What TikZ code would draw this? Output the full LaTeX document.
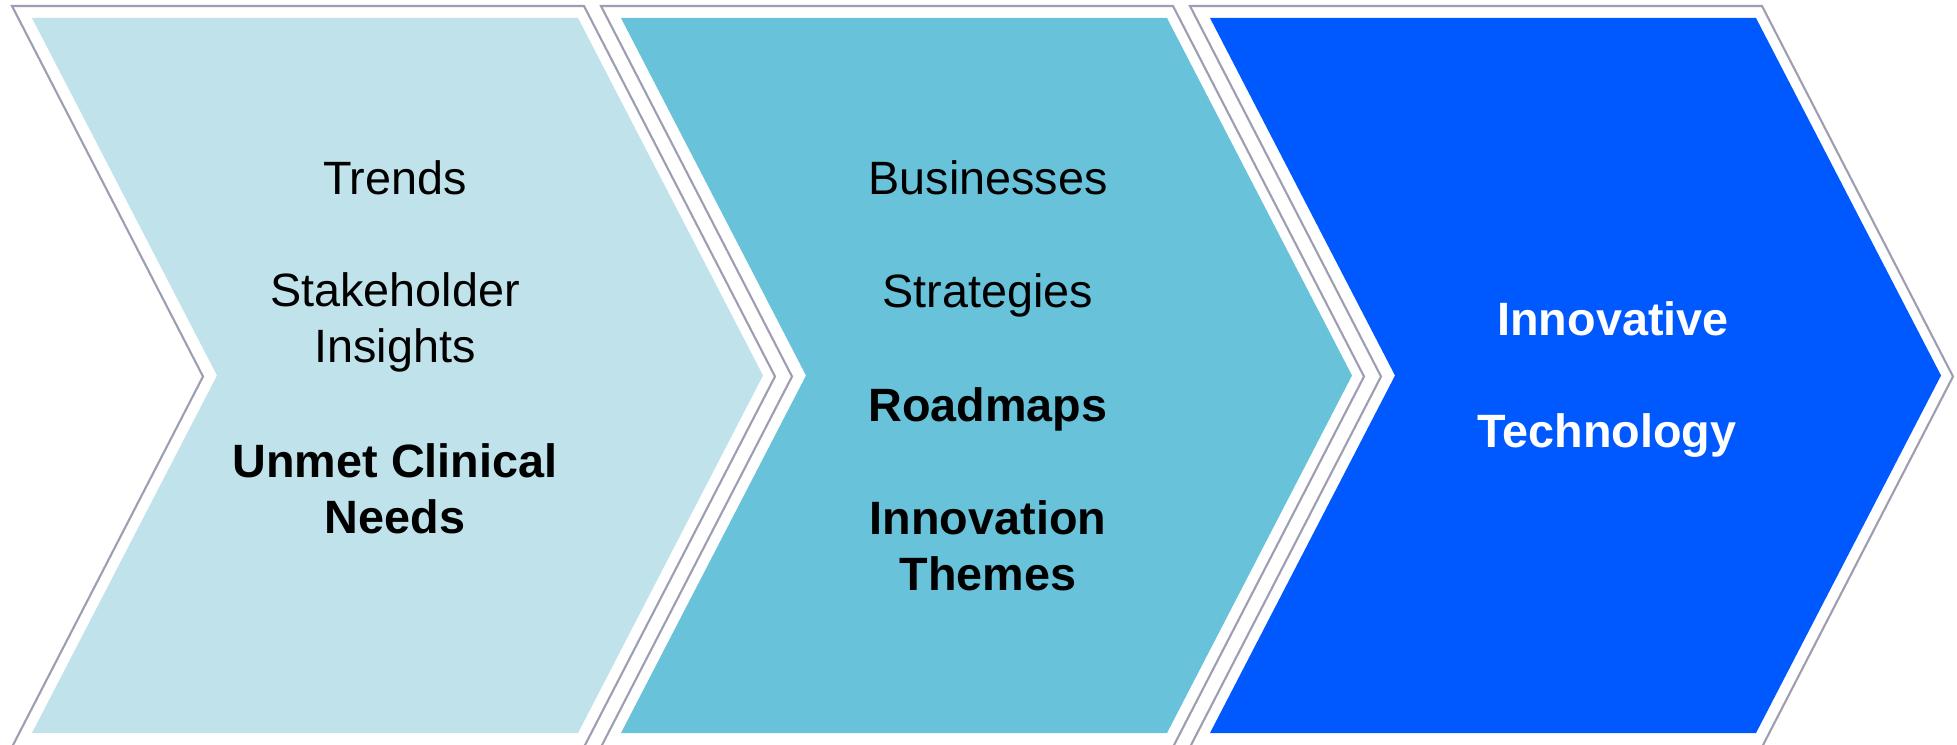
\documentclass[tikz,border=0pt]{standalone}
\usepackage{fontspec}
\setmainfont{Liberation Sans}
\definecolor{edgegray}{RGB}{158,158,178}
\definecolor{paleteal}{RGB}{192,226,234}
\definecolor{midteal}{RGB}{104,194,217}
\definecolor{deepblue}{RGB}{0,89,255}

\begin{document}
\begin{tikzpicture}[
  font=\fontsize{13.3pt}{15.8pt}\selectfont,
  rim/.style={draw=edgegray, line width=0.6pt, fill=white},
  body/.style={draw=none},
  txt/.style={align=center, inner sep=0pt, anchor=base},
  boldtxt/.style={txt, font=\fontsize{13.3pt}{15.8pt}\selectfont\bfseries}
]
\useasboundingbox (0,0) rectangle (19.57,7.44);

% stage 1
\draw[rim] (0.12,7.38) -- (5.84,7.38) -- (7.75,3.675) -- (5.84,-0.03)
  -- (0.12,-0.03) -- (2.03,3.675) -- cycle;
\fill[body, paleteal] (0.32,7.26) -- (5.78,7.26) -- (7.63,3.685) -- (5.78,0.11)
  -- (0.32,0.11) -- (2.17,3.685) -- cycle;

% stage 2
\draw[rim] (6.01,7.38) -- (11.73,7.38) -- (13.64,3.675) -- (11.73,-0.03)
  -- (6.01,-0.03) -- (7.92,3.675) -- cycle;
\fill[body, midteal] (6.21,7.26) -- (11.67,7.26) -- (13.52,3.685) -- (11.67,0.11)
  -- (6.21,0.11) -- (8.06,3.685) -- cycle;

% stage 3
\draw[rim] (11.90,7.38) -- (17.62,7.38) -- (19.53,3.675) -- (17.62,-0.03)
  -- (11.90,-0.03) -- (13.81,3.675) -- cycle;
\fill[body, deepblue] (12.10,7.26) -- (17.56,7.26) -- (19.41,3.685) -- (17.56,0.11)
  -- (12.10,0.11) -- (13.95,3.685) -- cycle;

% multi-line nodes sit on the baseline of their last line
\node[txt] (trends) at (3.95,5.50) {Trends};
\node[txt] (insights) at (3.95,3.82) {Stakeholder\\Insights};
\node[boldtxt] (needs) at (3.95,2.11) {Unmet Clinical\\Needs};

\node[txt] (businesses) at (9.88,5.50) {Businesses};
\node[txt] (strategies) at (9.88,4.37) {Strategies};
\node[boldtxt] (roadmaps) at (9.88,3.23) {Roadmaps};
\node[boldtxt] (themes) at (9.88,1.54) {Innovation\\Themes};

\node[boldtxt, text=white] (innovative) at (16.13,4.09) {Innovative};
\node[boldtxt, text=white] (technology) at (16.07,2.97) {Technology};

\end{tikzpicture}
\end{document}
